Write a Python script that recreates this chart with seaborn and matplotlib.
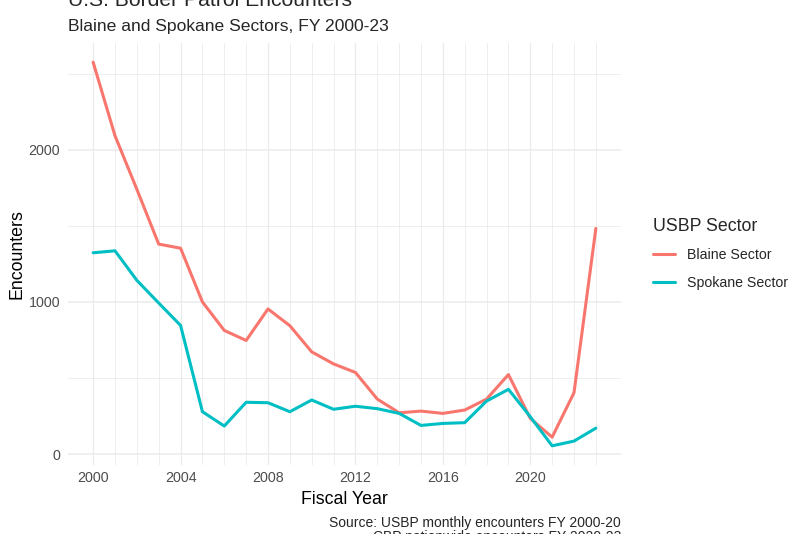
import pandas as pd
import numpy as np
import matplotlib
matplotlib.use("Agg")
import matplotlib.pyplot as plt
import seaborn as sns

# Datos (encuentros por año fiscal)
years = list(range(2000, 2024))
blaine = [2575, 2092, 1740, 1380, 1353, 1000, 813, 747, 954, 844, 672, 593,
          537, 362, 272, 283, 268, 290, 362, 523, 235, 112, 404, 1483]
spokane = [1323, 1336, 1142, 993, 846, 279, 185, 341, 338, 279, 356, 295,
           315, 299, 268, 189, 202, 207, 349, 426, 246, 55, 86, 171]
sectors = ["Blaine Sector", "Spokane Sector"]
colores = ["#F8766D", "#00BFC4"]

df = pd.DataFrame({
    "Fiscal Year": years * 2,
    "Encounters": blaine + spokane,
    "USBP Sector": [sectors[0]] * len(years) + [sectors[1]] * len(years),
})

sns.set_theme(style="white")
plt.rcParams["font.family"] = ["Liberation Sans", "DejaVu Sans"]

fig = plt.figure(figsize=(8, 5.34), dpi=100)
ax = fig.add_axes([68 / 800, 69 / 534, 553 / 800, 422 / 534])

# Rejilla estilo theme_minimal
for yr in years:
    ax.axvline(yr, color="#EBEBEB", lw=0.6 if (yr - 2000) % 4 else 0.9, zorder=0)
for v in [500, 1500, 2500]:
    ax.axhline(v, color="#EBEBEB", lw=0.6, zorder=0)
for v in [0, 1000, 2000]:
    ax.axhline(v, color="#EBEBEB", lw=1.1, zorder=0)

sns.lineplot(data=df, x="Fiscal Year", y="Encounters", hue="USBP Sector",
             palette=colores, linewidth=2.2, ax=ax, legend=True)

xr = years[-1] - years[0]
ax.set_xlim(years[0] - 0.05 * xr, years[-1] + 0.05 * xr)
lo, hi = df["Encounters"].min(), df["Encounters"].max()
ax.set_ylim(lo - 0.05 * (hi - lo), hi + 0.05 * (hi - lo))

ax.set_xticks(range(2000, 2021, 4))
ax.set_yticks([0, 1000, 2000])
ax.tick_params(axis="both", length=0, labelsize=10.3, labelcolor="#4D4D4D")
ax.tick_params(axis="x", pad=4.5)
ax.tick_params(axis="y", pad=5.5)
for s in ax.spines.values():
    s.set_visible(False)

ax.set_xlabel("Fiscal Year", fontsize=12.8, color="black")
ax.set_ylabel("Encounters", fontsize=12.8, color="black")
ax.xaxis.set_label_coords(0.5, -0.062)
ax.yaxis.set_label_coords(-0.076, 0.5)

handles, labels = ax.get_legend_handles_labels()
ax.get_legend().remove()
leg = fig.legend(handles, labels, title="USBP Sector", loc="upper left",
                 bbox_to_anchor=(640 / 800, 1 - 205 / 534), frameon=False,
                 fontsize=10.2, title_fontsize=12.8, handlelength=1.6,
                 handletextpad=0.8, labelspacing=0.95, alignment="left")
for h in leg.get_lines():
    h.set_linewidth(2.2)

fig.text(68 / 800, 1 - 6 / 534, "U.S. Border Patrol Encounters",
         fontsize=15.2, va="baseline", ha="left")
fig.text(68 / 800, 1 - 31.5 / 534, "Blaine and Spokane Sectors, FY 2000-23",
         fontsize=12.6, va="baseline", ha="left")
fig.text(621 / 800, 1 - 527 / 534, "Source: USBP monthly encounters FY 2000-20",
         fontsize=10, va="baseline", ha="right")
fig.text(621 / 800, 1 - 541 / 534, "CBP nationwide encounters FY 2020-23",
         fontsize=10, va="baseline", ha="right")

fig.savefig("out.png", dpi=100)
